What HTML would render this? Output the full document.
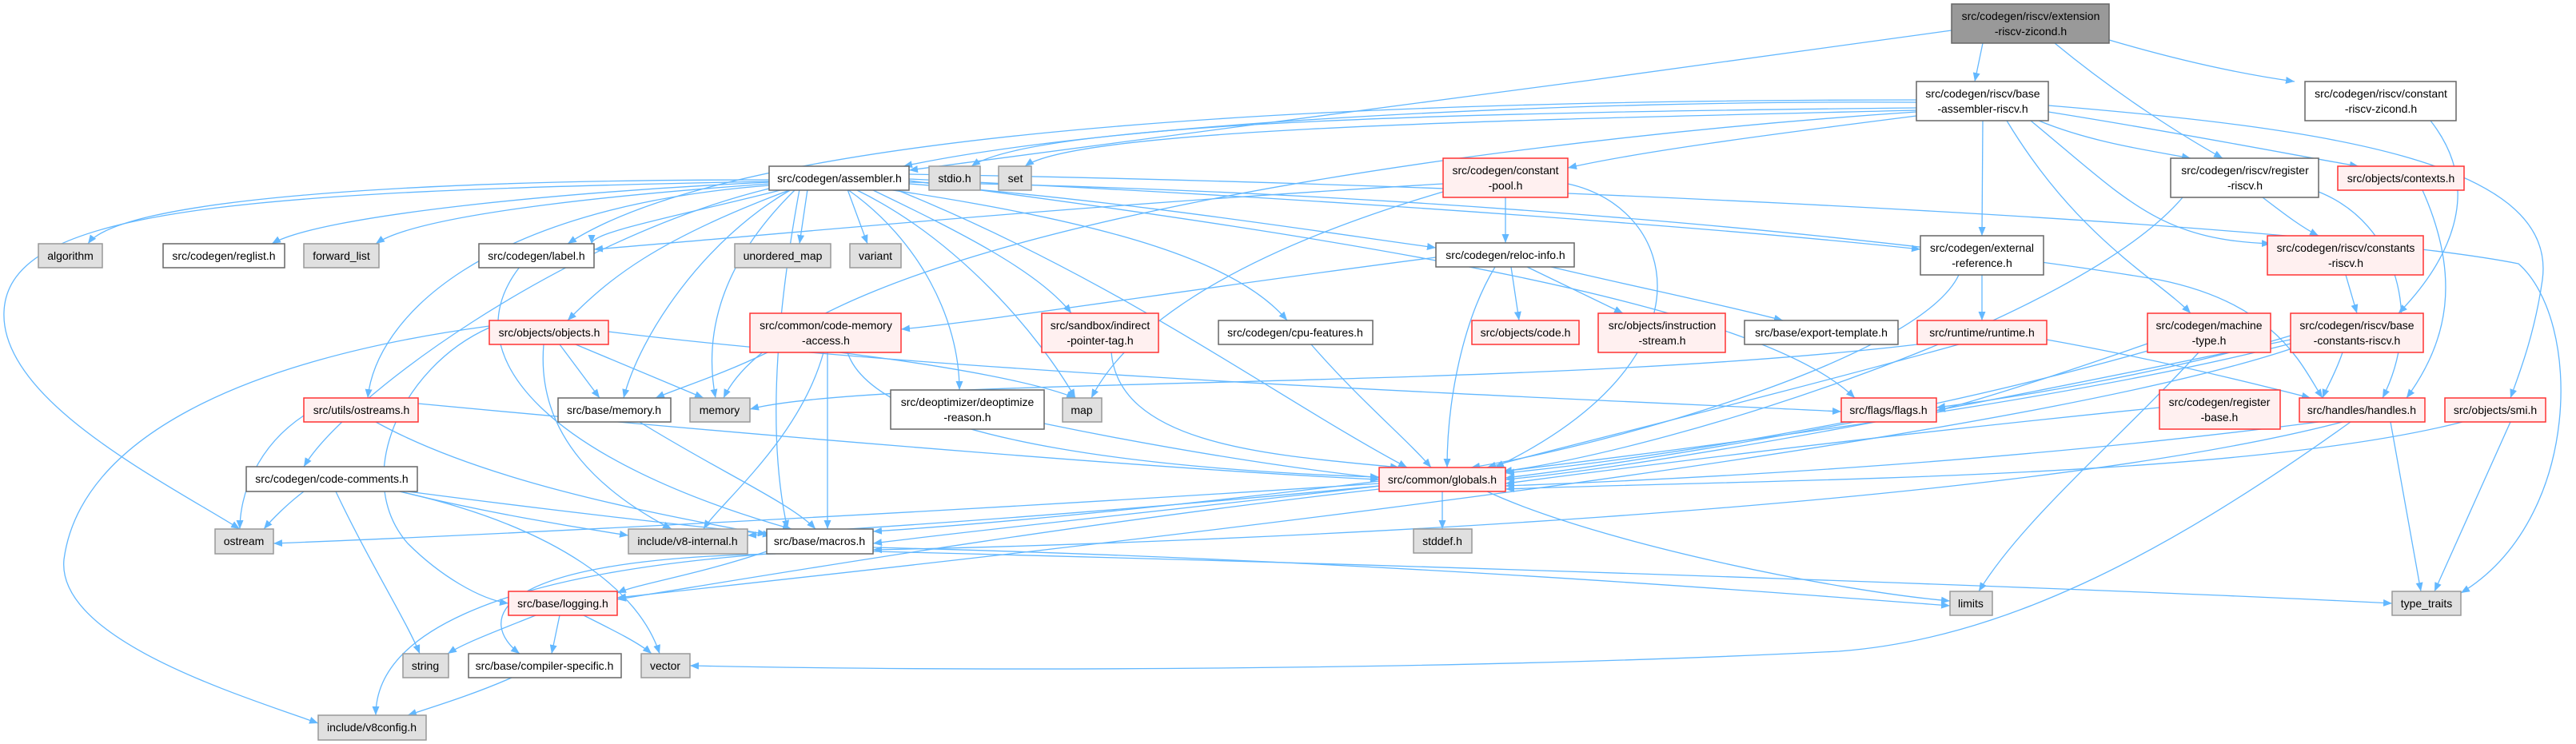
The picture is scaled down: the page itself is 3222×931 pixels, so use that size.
<!DOCTYPE html>
<html><head><meta charset="utf-8"><style>
html,body{margin:0;padding:0;background:#fff;}
svg{display:block;}
text{font-family:"Liberation Sans","DejaVu Sans",sans-serif;font-size:14px;fill:#000;text-anchor:middle;}
.w{fill:#fff;stroke:#666;stroke-width:1.5}
.g{fill:#e0e0e0;stroke:#999;stroke-width:1.5}
.r{fill:#fff0f0;stroke:#f33;stroke-width:1.5}
.x{fill:#999;stroke:#666;stroke-width:1.5}
path.e{fill:none;stroke:#63b8ff;stroke-width:1.3;marker-end:url(#a)}
</style></head><body>
<svg width="3222" height="931" viewBox="0 0 3222 931" xmlns="http://www.w3.org/2000/svg">
<defs><marker id="a" markerUnits="userSpaceOnUse" markerWidth="12" markerHeight="10" refX="11" refY="4.5" orient="auto"><path d="M0,0 L11,4.5 L0,9 z" fill="#63b8ff"/></marker></defs>
<g>
<!-- ext -->
<path class="e" d="M2480,54 L2470,102"/>
<path class="e" d="M2570,54 C2650,120 2730,170 2780,198"/>
<path class="e" d="M2638,50 C2740,80 2820,95 2870,102"/>
<path class="e" d="M2441,38 C2000,100 1400,180 1137,213"/>
<path class="e" d="M3040,151 C3110,240 3060,330 3000,392"/>
<!-- bar -->
<path class="e" d="M2397,128 C2000,125 1400,150 1130,208"/>
<path class="e" d="M2397,135 C1900,140 1300,150 1215,208"/>
<path class="e" d="M2397,138 C1900,150 1350,160 1282,208"/>
<path class="e" d="M2397,145 C2200,170 2050,190 1961,210"/>
<path class="e" d="M2397,125 C1500,125 900,180 710,305"/>
<path class="e" d="M2480,151 L2479,295"/>
<path class="e" d="M2510,151 C2600,300 2700,350 2740,392"/>
<path class="e" d="M2550,151 C2620,180 2700,190 2740,198"/>
<path class="e" d="M2540,151 C2660,250 2700,300 2840,305"/>
<path class="e" d="M2562,140 C2750,170 2900,200 2950,208"/>
<path class="e" d="M2562,132 C2900,160 3200,200 3180,350 C3170,420 3150,470 3140,498"/>
<path class="e" d="M2397,140 C1800,180 1000,300 905,498"/>
<!-- asm -->
<path class="e" d="M962,225 C500,225 150,250 110,305"/>
<path class="e" d="M962,228 C700,240 400,270 340,305"/>
<path class="e" d="M962,230 C750,245 520,270 470,305"/>
<path class="e" d="M980,237 C850,270 740,290 740,305"/>
<path class="e" d="M1010,237 L1000,305"/>
<path class="e" d="M1060,237 L1085,305"/>
<path class="e" d="M990,237 C820,300 760,350 710,401"/>
<path class="e" d="M962,232 C600,260 470,400 460,498"/>
<path class="e" d="M990,237 C880,300 800,420 780,498"/>
<path class="e" d="M995,237 C900,330 880,420 895,498"/>
<path class="e" d="M1070,237 C1200,300 1300,420 1345,498"/>
<path class="e" d="M1060,237 C1150,300 1200,400 1200,488"/>
<path class="e" d="M1090,237 C1200,290 1300,340 1340,392"/>
<path class="e" d="M1110,237 C1400,280 1550,330 1610,401"/>
<path class="e" d="M1137,230 C1400,250 1650,290 1796,310"/>
<path class="e" d="M1137,224 C1700,250 2200,290 2402,312"/>
<path class="e" d="M1137,226 C1700,300 2200,380 2320,498"/>
<path class="e" d="M1120,237 C1400,350 1600,500 1760,585"/>
<path class="e" d="M1137,228 C1800,240 2400,300 2700,350 C2850,380 2880,460 2905,498"/>
<path class="e" d="M1137,218 C1900,230 2900,280 3150,330 C3230,400 3230,650 3078,742"/>
<path class="e" d="M962,236 C700,300 430,500 380,584"/>
<path class="e" d="M962,227 C300,240 10,260 5,390 C0,500 200,600 300,662"/>
<path class="e" d="M1000,237 C970,400 960,550 985,662"/>
<!-- cpool -->
<path class="e" d="M1883,247 L1883,304"/>
<path class="e" d="M1805,230 C1300,260 900,300 743,312"/>
<path class="e" d="M1805,240 C1500,330 1400,430 1365,498"/>
<path class="e" d="M1961,230 C2100,260 2150,450 1870,585"/>
<!-- reloc -->
<path class="e" d="M1796,322 C1500,360 1250,400 1127,412"/>
<path class="e" d="M1870,334 C1830,400 1810,500 1810,585"/>
<path class="e" d="M1890,334 L1900,401"/>
<path class="e" d="M1910,334 L2030,392"/>
<path class="e" d="M1940,334 C2050,360 2150,380 2230,401"/>
<!-- cma -->
<path class="e" d="M960,441 C900,470 850,485 820,498"/>
<path class="e" d="M1030,441 C1000,550 900,630 880,662"/>
<path class="e" d="M1035,441 C1035,550 1035,620 1035,662"/>
<path class="e" d="M1050,441 C1200,460 1300,480 1345,498"/>
<path class="e" d="M1060,441 C1100,560 1500,590 1725,597"/>
<!-- objs -->
<path class="e" d="M700,431 L750,498"/>
<path class="e" d="M720,431 L880,498"/>
<path class="e" d="M680,431 C670,550 760,620 840,662"/>
<path class="e" d="M612,410 C500,460 440,600 510,680 C550,720 600,750 636,755"/>
<path class="e" d="M612,408 C300,450 100,550 80,700 C70,800 300,870 398,905"/>
<path class="e" d="M761,415 C1200,470 2000,500 2303,515"/>
<!-- ostr -->
<path class="e" d="M380,520 C320,560 300,620 300,662"/>
<path class="e" d="M470,528 C600,600 800,640 965,670"/>
<path class="e" d="M523,505 C1000,550 1500,590 1725,600"/>
<!-- label / bmem / misc -->
<path class="e" d="M650,334 C560,450 700,580 990,662"/>
<path class="e" d="M800,528 C900,590 990,630 1020,662"/>
<path class="e" d="M1306,530 C1500,570 1650,590 1725,598"/>
<path class="e" d="M1390,441 C1400,560 1600,570 1750,585"/>
<path class="e" d="M1640,431 C1700,500 1760,550 1790,585"/>
<path class="e" d="M2479,344 L2479,401"/>
<path class="e" d="M2450,344 C2400,450 2000,560 1840,585"/>
<path class="e" d="M2398,431 C1900,490 1100,470 938,512"/>
<path class="e" d="M2450,431 C2200,500 1950,560 1860,585"/>
<path class="e" d="M2560,425 C2700,450 2820,480 2890,498"/>
<path class="e" d="M2686,430 C2600,460 2480,500 2422,514"/>
<path class="e" d="M2690,438 C2400,520 2100,570 1883,592"/>
<path class="e" d="M2750,441 C2650,550 2530,650 2475,740"/>
<path class="e" d="M2934,344 L2948,392"/>
<path class="e" d="M2830,247 C2860,270 2880,285 2900,295"/>
<path class="e" d="M2900,240 C3000,280 3030,400 2980,498"/>
<path class="e" d="M2730,247 C2600,400 2100,560 1880,590"/>
<path class="e" d="M2865,420 C2700,470 2500,500 2422,510"/>
<path class="e" d="M2865,425 C2500,500 2100,580 1883,600"/>
<path class="e" d="M2865,430 C2400,550 1400,640 1092,680"/>
<path class="e" d="M2870,435 C2500,560 1300,690 772,748"/>
<path class="e" d="M2930,441 C2920,470 2910,485 2905,498"/>
<path class="e" d="M3030,238 C3080,350 3060,430 3010,498"/>
<path class="e" d="M2701,510 C2300,550 2000,590 1883,605"/>
<path class="e" d="M2900,528 C2500,580 2100,600 1883,608"/>
<path class="e" d="M2930,528 C2500,640 1500,680 1092,688"/>
<path class="e" d="M2990,528 L3028,740"/>
<path class="e" d="M2940,528 C2700,700 2500,800 2300,815 C1800,840 1200,840 863,833"/>
<path class="e" d="M3080,528 C2800,600 2200,600 1883,612"/>
<path class="e" d="M3140,528 L3045,740"/>
<path class="e" d="M2320,528 C2100,570 1950,590 1883,598"/>
<!-- glob -->
<path class="e" d="M1725,605 C1200,640 600,670 342,680"/>
<path class="e" d="M1725,608 C1400,640 1100,660 935,670"/>
<path class="e" d="M1725,602 C1500,630 1250,655 1092,665"/>
<path class="e" d="M1804,615 L1804,662"/>
<path class="e" d="M1860,615 C2000,680 2300,740 2439,752"/>
<path class="e" d="M1725,612 C1300,660 900,730 772,750"/>
<!-- cc -->
<path class="e" d="M380,615 C360,630 340,650 330,662"/>
<path class="e" d="M420,615 C460,700 510,780 525,818"/>
<path class="e" d="M500,615 C600,640 720,660 786,670"/>
<path class="e" d="M510,615 C700,640 880,660 959,668"/>
<path class="e" d="M500,615 C700,660 800,740 825,818"/>
<!-- macros -->
<path class="e" d="M959,690 C870,720 800,730 772,742"/>
<path class="e" d="M970,693 C600,700 600,780 650,818"/>
<path class="e" d="M962,693 C600,720 470,800 470,895"/>
<path class="e" d="M1092,685 C1700,700 2200,740 2439,758"/>
<path class="e" d="M1092,690 C1900,710 2700,740 2992,755"/>
<!-- logging / cs -->
<path class="e" d="M670,770 C620,790 580,805 560,818"/>
<path class="e" d="M700,770 L690,818"/>
<path class="e" d="M730,770 C770,790 800,805 815,818"/>
<path class="e" d="M640,848 C590,870 540,885 510,895"/>
</g>
<g>
<rect class="x" x="2441" y="5" width="197" height="49"/><text x="2540" y="25">src/codegen/riscv/extension</text><text x="2540" y="44">-riscv-zicond.h</text>
<rect class="w" x="2397" y="102" width="165" height="49"/><text x="2480" y="122">src/codegen/riscv/base</text><text x="2480" y="141">-assembler-riscv.h</text>
<rect class="w" x="2883" y="102" width="189" height="49"/><text x="2978" y="122">src/codegen/riscv/constant</text><text x="2978" y="141">-riscv-zicond.h</text>
<rect class="w" x="962" y="208" width="175" height="30"/><text x="1050" y="228">src/codegen/assembler.h</text>
<rect class="g" x="1162" y="208" width="64" height="30"/><text x="1194" y="228">stdio.h</text>
<rect class="g" x="1249" y="208" width="41" height="30"/><text x="1270" y="228">set</text>
<rect class="r" x="1805" y="198" width="156" height="49"/><text x="1883" y="218">src/codegen/constant</text><text x="1883" y="237">-pool.h</text>
<rect class="w" x="2715" y="198" width="185" height="49"/><text x="2808" y="218">src/codegen/riscv/register</text><text x="2808" y="237">-riscv.h</text>
<rect class="r" x="2924" y="208" width="158" height="30"/><text x="3003" y="228">src/objects/contexts.h</text>
<rect class="g" x="48" y="305" width="80" height="30"/><text x="88" y="325">algorithm</text>
<rect class="w" x="204" y="305" width="152" height="30"/><text x="280" y="325">src/codegen/reglist.h</text>
<rect class="g" x="380" y="305" width="94" height="30"/><text x="427" y="325">forward_list</text>
<rect class="w" x="599" y="305" width="144" height="30"/><text x="671" y="325">src/codegen/label.h</text>
<rect class="g" x="919" y="305" width="120" height="30"/><text x="979" y="325">unordered_map</text>
<rect class="g" x="1063" y="305" width="64" height="30"/><text x="1095" y="325">variant</text>
<rect class="w" x="1796" y="304" width="173" height="30"/><text x="1883" y="324">src/codegen/reloc-info.h</text>
<rect class="w" x="2402" y="295" width="154" height="49"/><text x="2479" y="315">src/codegen/external</text><text x="2479" y="334">-reference.h</text>
<rect class="r" x="2836" y="295" width="195" height="49"/><text x="2934" y="315">src/codegen/riscv/constants</text><text x="2934" y="334">-riscv.h</text>
<rect class="r" x="612" y="401" width="149" height="30"/><text x="687" y="421">src/objects/objects.h</text>
<rect class="r" x="938" y="392" width="189" height="49"/><text x="1033" y="412">src/common/code-memory</text><text x="1033" y="431">-access.h</text>
<rect class="r" x="1303" y="392" width="146" height="49"/><text x="1376" y="412">src/sandbox/indirect</text><text x="1376" y="431">-pointer-tag.h</text>
<rect class="w" x="1524" y="401" width="193" height="30"/><text x="1620" y="421">src/codegen/cpu-features.h</text>
<rect class="r" x="1841" y="401" width="134" height="30"/><text x="1908" y="421">src/objects/code.h</text>
<rect class="r" x="1999" y="392" width="159" height="49"/><text x="2079" y="412">src/objects/instruction</text><text x="2079" y="431">-stream.h</text>
<rect class="w" x="2182" y="401" width="192" height="30"/><text x="2278" y="421">src/base/export-template.h</text>
<rect class="r" x="2398" y="401" width="162" height="30"/><text x="2479" y="421">src/runtime/runtime.h</text>
<rect class="r" x="2686" y="392" width="154" height="49"/><text x="2763" y="412">src/codegen/machine</text><text x="2763" y="431">-type.h</text>
<rect class="r" x="2865" y="392" width="166" height="49"/><text x="2948" y="412">src/codegen/riscv/base</text><text x="2948" y="431">-constants-riscv.h</text>
<rect class="r" x="380" y="498" width="143" height="30"/><text x="452" y="518">src/utils/ostreams.h</text>
<rect class="w" x="698" y="498" width="141" height="30"/><text x="768" y="518">src/base/memory.h</text>
<rect class="g" x="863" y="498" width="75" height="30"/><text x="900" y="518">memory</text>
<rect class="w" x="1114" y="488" width="192" height="49"/><text x="1210" y="508">src/deoptimizer/deoptimize</text><text x="1210" y="527">-reason.h</text>
<rect class="g" x="1329" y="498" width="49" height="30"/><text x="1353" y="518">map</text>
<rect class="r" x="2303" y="498" width="119" height="30"/><text x="2362" y="518">src/flags/flags.h</text>
<rect class="r" x="2701" y="488" width="151" height="49"/><text x="2776" y="508">src/codegen/register</text><text x="2776" y="527">-base.h</text>
<rect class="r" x="2876" y="498" width="157" height="30"/><text x="2954" y="518">src/handles/handles.h</text>
<rect class="r" x="3058" y="498" width="126" height="30"/><text x="3121" y="518">src/objects/smi.h</text>
<rect class="w" x="308" y="584" width="214" height="31"/><text x="415" y="604">src/codegen/code-comments.h</text>
<rect class="r" x="1725" y="585" width="158" height="30"/><text x="1804" y="605">src/common/globals.h</text>
<rect class="g" x="269" y="662" width="73" height="31"/><text x="305" y="682">ostream</text>
<rect class="g" x="786" y="662" width="149" height="31"/><text x="860" y="682">include/v8-internal.h</text>
<rect class="w" x="959" y="662" width="133" height="31"/><text x="1025" y="682">src/base/macros.h</text>
<rect class="g" x="1768" y="662" width="73" height="30"/><text x="1804" y="682">stddef.h</text>
<rect class="r" x="636" y="740" width="136" height="30"/><text x="704" y="760">src/base/logging.h</text>
<rect class="g" x="2439" y="740" width="53" height="30"/><text x="2465" y="760">limits</text>
<rect class="g" x="2992" y="740" width="86" height="30"/><text x="3035" y="760">type_traits</text>
<rect class="g" x="504" y="818" width="57" height="30"/><text x="532" y="838">string</text>
<rect class="w" x="586" y="818" width="191" height="30"/><text x="681" y="838">src/base/compiler-specific.h</text>
<rect class="g" x="802" y="818" width="61" height="30"/><text x="832" y="838">vector</text>
<rect class="g" x="398" y="895" width="135" height="31"/><text x="465" y="915">include/v8config.h</text>
</g>
</svg>
</body></html>
